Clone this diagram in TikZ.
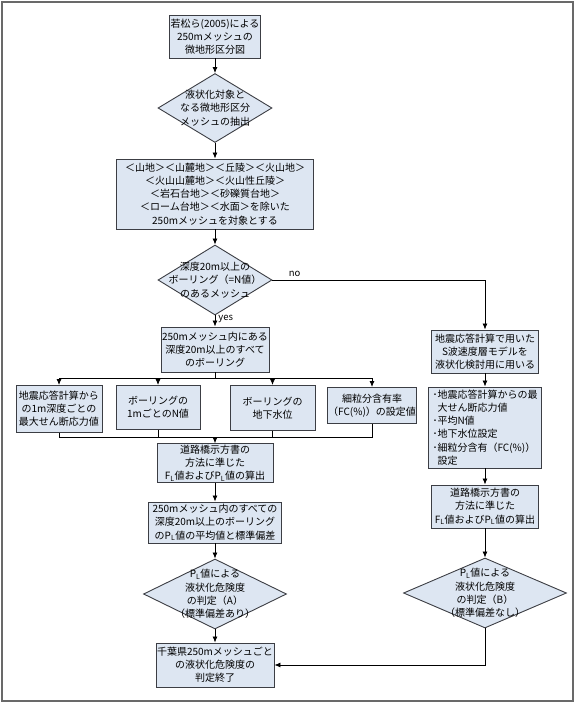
\documentclass[tikz,border=0pt]{standalone}
\usepackage{fontspec}
\setmainfont{Noto Sans CJK JP}
\usetikzlibrary{shapes,arrows}
\usetikzlibrary{arrows.meta}
\usetikzlibrary{shapes.geometric}
\definecolor{boxfill}{RGB}{221,230,242}
\definecolor{boxline}{RGB}{60,62,68}
\definecolor{framegray}{RGB}{105,105,105}
\newcommand{\boxfont}{\fontsize{10}{13.2}\selectfont}

\begin{document}
\begin{tikzpicture}[x=1pt, y=-1pt, node distance = 70pt, auto]
    \tikzstyle{box} = [rectangle, draw=boxline, line width=0.9pt, fill=boxfill, align=center, inner sep=1pt, font=\boxfont]
    \tikzstyle{decision} = [diamond, draw=boxline, line width=0.9pt, fill=boxfill, inner sep=0pt]
    \tikzstyle{dtext} = [align=center, inner sep=0pt, font=\boxfont]
    \tikzstyle{line} = [draw, line width=0.8pt, -{Latex[length=6pt, width=5pt]}]

    \useasboundingbox (0,0) rectangle (575,704);
    \draw [framegray, line width=2pt] (2,2) rectangle (572.5,701);

    % main column
    \node [box, minimum width=86pt, minimum height=43pt] (map) at (215,36.5) {若松ら(2005)による\\250mメッシュの\\微地形区分図};
    \node [decision, below of=map, node distance=71.5pt, minimum width=114pt, minimum height=69pt,
           label={[dtext]center:{液状化対象と\\なる微地形区分\\メッシュの抽出}}] (extract) {};
    \node [box, below of=extract, node distance=86pt, minimum width=197pt, minimum height=70pt] (target)
          {＜山地＞＜山麓地＞＜丘陵＞＜火山地＞\\＜火山山麓地＞＜火山性丘陵＞\\＜岩石台地＞＜砂礫質台地＞\\＜ローム台地＞＜水面＞を除いた\\250mメッシュを対象とする};
    \node [decision, below of=target, node distance=86pt, minimum width=114pt, minimum height=70pt,
           label={[dtext]center:{深度20m以上の\\ボーリング（=N値）\\のあるメッシュ}}] (boring) {};
    \node [box, below of=boring, node distance=69.5pt, minimum width=100pt, minimum height=45pt] (allboring)
          {250mメッシュ内にある\\深度20m以上のすべて\\のボーリング};

    % four inputs
    \node [box, anchor=north, minimum width=86pt, minimum height=47pt] (stress) at (59,385) {地震応答計算から\\の1m深度ごとの\\最大せん断応力値};
    \node [box, anchor=north, minimum width=84pt, minimum height=44pt] (nvalue) at (158,385) {ボーリングの\\1mごとのN値};
    \node [box, anchor=north, minimum width=85pt, minimum height=45pt] (water) at (272.5,385) {ボーリングの\\地下水位};
    \node [box, anchor=north, minimum width=86pt, minimum height=36pt] (fines) at (372,387) {細粒分含有率\\（FC(\%)）の設定値};
    \coordinate (split) at (215,378);
    \coordinate (merge) at (215,437);

    \node [box, below of=allboring, node distance=113.5pt, minimum width=116pt, minimum height=38pt] (calc)
          {道路橋示方書の\\方法に準じた\\F\textsubscript{L}値およびP\textsubscript{L}値の算出};
    \node [box, below of=calc, node distance=59.5pt, minimum width=133pt, minimum height=41pt] (average)
          {250mメッシュ内のすべての\\深度20m以上のボーリング\\のP\textsubscript{L}値の平均値と標準偏差};
    \node [decision, below of=average, node distance=71.5pt, minimum width=143pt, minimum height=70pt,
           label={[dtext]center:{P\textsubscript{L}値による\\液状化危険度\\の判定（A）\\（標準偏差あり）}}] (judgea) {};
    \node [box, below of=judgea, node distance=71pt, minimum width=115pt, minimum height=44pt] (finish)
          {千葉県250mメッシュごと\\の液状化危険度の\\判定終了};

    % right column
    \node [box, minimum width=107pt, minimum height=43pt] (smodel) at (485,351.5) {地震応答計算で用いた\\S波速度層モデルを\\液状化検討用に用いる};
    \node [box, below of=smodel, node distance=76pt, minimum width=113pt, minimum height=81pt, align=left] (params)
          {･地震応答計算からの最\\\phantom{･}大せん断応力値\\･平均N値\\･地下水位設定\\･細粒分含有（FC(\%)）\\\phantom{･}設定};
    \node [box, below of=params, node distance=79pt, minimum width=107pt, minimum height=43pt] (calcb)
          {道路橋示方書の\\方法に準じた\\F\textsubscript{L}値およびP\textsubscript{L}値の算出};
    \node [decision, below of=calcb, node distance=86.5pt, minimum width=163pt, minimum height=70pt,
           label={[dtext]center:{P\textsubscript{L}値による\\液状化危険度\\の判定（B）\\（標準偏差なし）}}] (judgeb) {};

    % connectors
    \path [line] (map) -- (extract);
    \path [line] (extract) -- (target);
    \path [line] (target) -- (boring);
    \path [line] (boring) -- node [pos=0.3, anchor=west, xshift=2pt, inner sep=1pt, font=\fontsize{9.5}{11}\selectfont] {yes} (allboring);
    \path [line] (boring.east) -| node [pos=0.03, anchor=south west, font=\fontsize{9.5}{11}\selectfont] {no} (smodel);
    \draw [line width=0.8pt] (allboring) -- (split);
    \path [line] (split) -| (stress);
    \path [line] (split) -| (nvalue);
    \path [line] (split) -| (water);
    \path [line] (split) -| (fines);
    \draw [line width=0.8pt] (stress) |- (merge);
    \draw [line width=0.8pt] (nvalue) |- (merge);
    \draw [line width=0.8pt] (water) |- (merge);
    \draw [line width=0.8pt] (fines) |- (merge);
    \path [line] (merge) -- (calc);
    \path [line] (calc) -- (average);
    \path [line] (average) -- (judgea);
    \path [line] (judgea) -- (finish);
    \path [line] (smodel) -- (params);
    \path [line] (params) -- (calcb);
    \path [line] (calcb) -- (judgeb);
    \path [line] (judgeb) |- (finish);
\end{tikzpicture}
\end{document}
